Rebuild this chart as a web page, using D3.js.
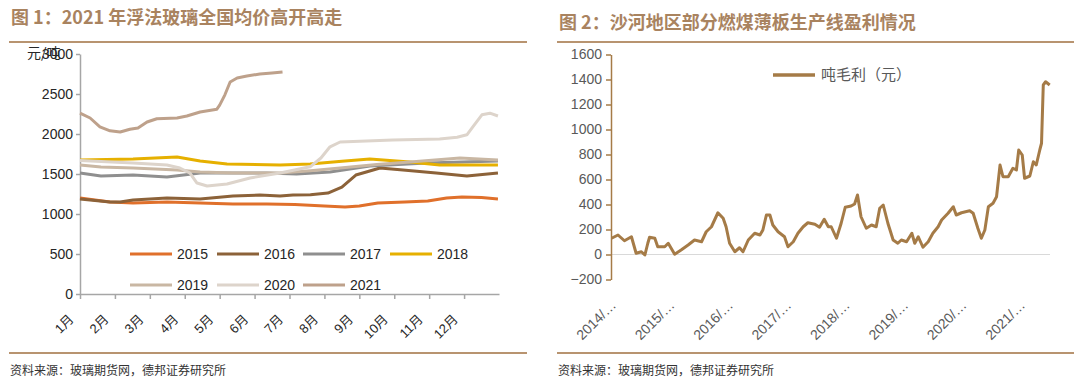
<!DOCTYPE html>
<html><head><meta charset="utf-8">
<script src="https://cdn.jsdelivr.net/npm/d3@7/dist/d3.min.js"></script>
<style>
html,body{margin:0;padding:0;background:#fff;}
svg text{font-family:"Liberation Sans",Arial,"Noto Sans CJK SC",sans-serif;}
.cjk{font-family:"Noto Sans CJK SC","Liberation Sans",sans-serif;}
</style></head>
<body>
<svg id="c" width="1080" height="382"></svg>
<script>
// ---------- Figure 1 data: national float glass average price (元/吨), by month position (1 = start of Jan) ----------
const monthLabels = ["1月","2月","3月","4月","5月","6月","7月","8月","9月","10月","11月","12月"];
const priceTicks = [0,500,1000,1500,2000,2500,3000];
const seriesNames = ["2015","2016","2017","2018","2019","2020","2021"];
const s2015 = [[1,1200],[1.86,1150],[2.52,1137],[3.49,1150],[4.44,1137],[5.38,1125],[6.35,1125],[7.15,1120],[8.0,1100],[8.59,1087],[9.0,1100],[9.53,1137],[10.3,1150],[10.96,1162],[11.5,1200],[11.94,1212],[12.5,1205],[12.97,1187]];
const s2016 = [[1,1187],[1.86,1150],[2.15,1150],[2.52,1175],[3.49,1200],[4.44,1187],[5.38,1225],[6.15,1237],[6.73,1225],[7.1,1237],[7.6,1240],[8.1,1262],[8.5,1337],[8.9,1487],[9.2,1525],[9.59,1575],[10.25,1550],[11.2,1512],[12.08,1475],[12.97,1512]];
const s2017 = [[1,1512],[1.6,1475],[2.52,1487],[3.49,1462],[4.44,1512],[6.35,1512],[7.2,1500],[8.16,1525],[9.3,1600],[10.93,1637],[12.97,1662]];
const s2018 = [[1,1675],[2.52,1687],[3.78,1712],[4.44,1662],[5.21,1625],[6.73,1612],[7.59,1625],[8.5,1660],[9.3,1687],[10.45,1650],[11.3,1612],[12.97,1612]];
const s2019 = [[1,1612],[1.6,1587],[2.52,1575],[3.78,1550],[4.44,1525],[5.38,1512],[6.73,1512],[7.6,1540],[8.45,1575],[9.5,1620],[10.45,1650],[11.88,1700],[12.97,1675]];
const s2020 = [[1,1670],[2.52,1637],[3.49,1612],[3.86,1575],[4.15,1512],[4.35,1387],[4.64,1350],[5.21,1375],[5.87,1450],[6.73,1512],[7.59,1590],[7.9,1700],[8.16,1840],[8.45,1900],[9.96,1925],[11.3,1937],[11.8,1960],[12.08,1990],[12.25,2090],[12.51,2240],[12.74,2260],[12.97,2225]];
const s2021 = [[1,2262],[1.29,2200],[1.57,2090],[1.86,2040],[2.15,2025],[2.43,2060],[2.66,2075],[2.92,2150],[3.2,2190],[3.78,2200],[4.06,2225],[4.44,2275],[4.92,2310],[5.0,2360],[5.15,2490],[5.3,2650],[5.5,2700],[5.78,2725],[6.15,2750],[6.5,2762],[6.8,2775]];
const seriesColors = ["#e0702b","#8c6239","#8f8f8f","#e6b000","#c9b7a3","#ddd4cb","#bea18b"];

// ---------- Figure 2 data: Shahe coal-fired thin-plate line gross profit per ton (元), by decimal year ----------
const profitYears = [2014.01,2014.12,2014.23,2014.35,2014.43,2014.52,2014.58,2014.63,2014.66,2014.75,2014.80,2014.92,2014.98,2015.09,2015.20,2015.32,2015.43,2015.55,2015.63,2015.72,2015.83,2015.92,2015.97,2016.03,2016.12,2016.20,2016.26,2016.35,2016.46,2016.55,2016.60,2016.66,2016.72,2016.77,2016.86,2016.97,2017.03,2017.12,2017.20,2017.29,2017.37,2017.49,2017.57,2017.65,2017.72,2017.77,2017.86,2017.94,2018.01,2018.11,2018.17,2018.22,2018.28,2018.37,2018.46,2018.54,2018.60,2018.66,2018.74,2018.83,2018.91,2018.97,2019.06,2019.15,2019.20,2019.26,2019.34,2019.43,2019.51,2019.60,2019.66,2019.77,2019.86,2019.91,2020.00,2020.14,2020.20,2020.28,2020.34,2020.40,2020.46,2020.54,2020.60,2020.66,2020.71,2020.80,2020.88,2020.94,2020.98,2021.04,2021.08,2021.17,2021.23,2021.28,2021.34,2021.37,2021.40,2021.44,2021.51];
const profitValues = [130,156,110,142,10,22,-4,90,138,130,62,62,90,2,36,76,116,102,182,222,334,290,222,90,22,54,22,116,170,156,196,316,316,236,182,142,62,102,170,222,254,242,218,282,222,222,130,250,378,388,404,476,302,210,236,222,370,396,250,116,90,116,102,170,90,142,58,102,170,222,276,330,382,316,334,350,330,210,130,196,382,410,462,716,622,622,690,676,836,796,610,628,742,716,836,890,1356,1382,1356];
const profitTicks = [-200,0,200,400,600,800,1000,1200,1400,1600];
const yearLabels = ["2014/…","2015/…","2016/…","2017/…","2018/…","2019/…","2020/…","2021/…"];
const yearTicks = [2014,2015,2016,2017,2018,2019,2020,2021];

const svg = d3.select("#c");
const titleColor = "#a9835f", ruleColor = "#b89470";

// ===== Headers & footers =====
function header(x0, x1, ty, text){
  svg.append("text").attr("class","cjk").attr("x",x0+2).attr("y",ty)
    .attr("font-size",18).attr("font-weight","bold").attr("fill",titleColor).text(text);
  svg.append("line").attr("x1",x0).attr("x2",x1).attr("y1",42).attr("y2",42)
    .attr("stroke",ruleColor).attr("stroke-width",2);
  svg.append("line").attr("x1",x0).attr("x2",x1).attr("y1",353).attr("y2",353)
    .attr("stroke",ruleColor).attr("stroke-width",2);
  svg.append("text").attr("class","cjk").attr("x",x0+1).attr("y",375)
    .attr("font-size",12).attr("fill","#333").text("资料来源：玻璃期货网，德邦证券研究所");
}
header(9, 527, 24, "图 1：2021 年浮法玻璃全国均价高开高走");
header(557, 1074, 29, "图 2：沙河地区部分燃煤薄板生产线盈利情况");

// ===== Figure 1 =====
const x1 = d3.scaleLinear().domain([1,13]).range([80,499]);
const y1 = d3.scaleLinear().domain([0,3000]).range([294,54]);
const axisColor = "#a6a6a6";

const gy1 = svg.append("g").attr("transform","translate(80,0)")
  .call(d3.axisLeft(y1).tickValues(priceTicks).tickSize(4).tickSizeOuter(0).tickPadding(3).tickFormat(d3.format("d")));
gy1.selectAll("path,line").attr("stroke",axisColor).attr("stroke-width",1.5);
gy1.selectAll("text").attr("font-size",14).attr("fill","#262626");

const gx1 = svg.append("g").attr("transform","translate(0,294)")
  .call(d3.axisBottom(x1).tickValues(d3.range(1,13)).tickSize(5).tickSizeOuter(0).tickFormat(""));
gx1.selectAll("path,line").attr("stroke",axisColor).attr("stroke-width",1.5);
gx1.selectAll(".tick").append("text")
  .attr("font-size",13).attr("fill","#262626").attr("text-anchor","end")
  .attr("transform","translate(-6,26) rotate(-45)")
  .text((d,i)=>monthLabels[i]);

// unit label (overlaps the 3000 tick label as in the reference)
svg.append("text").attr("class","cjk").attr("x",27).attr("y",58).attr("font-size",14).attr("fill","#262626").text("元/吨");

const allSeries = [s2015,s2016,s2017,s2018,s2019,s2020,s2021];
const line1 = d3.line().x(d=>x1(d[0])).y(d=>y1(d[1]));
allSeries.forEach((s,i)=>{
  svg.append("path").datum(s).attr("d",line1).attr("fill","none")
    .attr("stroke",seriesColors[i]).attr("stroke-width",3).attr("stroke-linejoin","round");
});

// legend
const legCols = [130,217,303,390], legRows = [254,285];
seriesNames.forEach((n,i)=>{
  const cx = legCols[i<4?i:i-4], cy = legRows[i<4?0:1];
  svg.append("line").attr("x1",cx).attr("x2",cx+42).attr("y1",cy).attr("y2",cy)
    .attr("stroke",seriesColors[i]).attr("stroke-width",3);
  svg.append("text").attr("x",cx+47).attr("y",cy+5).attr("font-size",14).attr("fill","#262626").text(n);
});

// ===== Figure 2 =====
const x2 = d3.scaleLinear().domain([2014,2021.51]).range([611,1049.7]);
const y2 = d3.scaleLinear().domain([-200,1600]).range([279.5,54.5]);
const brown = "#a57b47";

svg.append("line").attr("x1",611).attr("x2",1050).attr("y1",y2(0)).attr("y2",y2(0))
  .attr("stroke","#d9d9d9").attr("stroke-width",1.2);

const gy2 = svg.append("g").attr("transform","translate(611,0)")
  .call(d3.axisLeft(y2).tickValues(profitTicks).tickSize(5).tickSizeOuter(0).tickPadding(4).tickFormat(d=>d<0?"\u2212"+(-d):d));
gy2.selectAll("path,line").attr("stroke",brown).attr("stroke-width",1.5);
gy2.selectAll("text").attr("font-size",14).attr("fill","#595959");

svg.append("g").selectAll("text").data(yearTicks).join("text")
  .attr("font-size",14).attr("fill","#595959").attr("text-anchor","end")
  .attr("transform",d=>`translate(${x2(d)+6},${306}) rotate(-45)`)
  .text((d,i)=>yearLabels[i]);

const line2 = d3.line().x((d,i)=>x2(profitYears[i])).y(d=>y2(d));
svg.append("path").datum(profitValues).attr("d",line2).attr("fill","none")
  .attr("stroke",brown).attr("stroke-width",3).attr("stroke-linejoin","round");

svg.append("line").attr("x1",773).attr("x2",815).attr("y1",75).attr("y2",75)
  .attr("stroke",brown).attr("stroke-width",3.5);
svg.append("text").attr("class","cjk").attr("x",821).attr("y",80).attr("font-size",15).attr("fill","#595959").text("吨毛利（元）");
</script>
</body></html>
